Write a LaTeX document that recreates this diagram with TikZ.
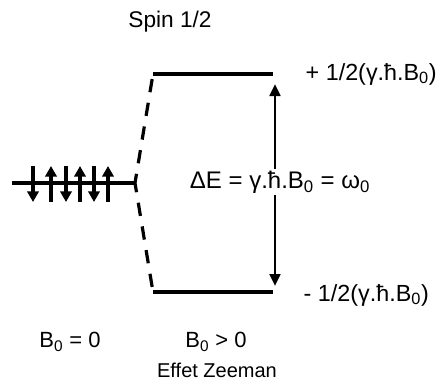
\documentclass[tikz,border=0pt]{standalone}
\usepackage{fontspec}
\setmainfont{Liberation Sans}
\usetikzlibrary{arrows.meta}

\tikzset{
  level/.style={line width=2.6pt},
  trans/.style={line width=2.4pt, dash pattern=on 10pt off 8pt, dash phase=3pt},
  spin/.style={line width=2.4pt, -{Triangle[length=8pt,width=8.5pt]}},
  gap/.style={line width=2pt, {Triangle[length=9pt,width=8pt]}-{Triangle[length=9pt,width=8pt]}},
  biglabel/.style={font=\fontsize{17.5}{21}\selectfont},
}

\begin{document}
\begin{tikzpicture}[x=0.75pt, y=-0.75pt, font=\fontsize{16.5}{20}\selectfont]
  \useasboundingbox (0,0) rectangle (437,380);
  % ---- energy levels ----
  \coordinate (g0) at (12,183);
  \coordinate (g1) at (135,183);
  \coordinate (up0) at (153,74);
  \coordinate (up1) at (273,74);
  \coordinate (lo0) at (153,292);
  \coordinate (lo1) at (273,292);
  \draw[level] (g0) -- (g1);
  \draw[level] (up0) -- (up1);
  \draw[level] (lo0) -- (lo1);
  \draw[trans] (g1) -- (up0);
  \draw[trans] (g1) -- (lo0);
  % ---- spins, alternating down / up ----
  \foreach \x/\a/\b in {33/top/bot, 51/bot/top, 66/top/bot, 80/bot/top, 94/top/bot, 108/bot/top} {
    \coordinate (s-top-\x) at (\x,166);
    \coordinate (s-bot-\x) at (\x,202);
    \draw[spin] (s-\a-\x) -- (s-\b-\x);
  }
  % ---- splitting ----
  \coordinate (gaptop) at (275,84);
  \coordinate (gapbot) at (275,286);
  \draw[gap] (gaptop) -- (gapbot);
  \node[font=\fontsize{18}{22}\selectfont, fill=white, inner sep=1pt] (dE) at (280,182)
    {ΔE = γ.ħ.B\textsubscript{0} = ω\textsubscript{0}};
  \node[biglabel, anchor=west] (eup) at (301,74) {+ 1/2(γ.ħ.B\textsubscript{0})};
  \node[biglabel, anchor=west] (elo) at (299,295) {- 1/2(γ.ħ.B\textsubscript{0})};
  % ---- captions ----
  \node[font=\fontsize{17}{20}\selectfont] (spin) at (170,22) {Spin 1/2};
  \node (nofield) at (70,342) {B\textsubscript{0} = 0};
  \node (field) at (216,342) {B\textsubscript{0} > 0};
  \node[font=\fontsize{15}{18}\selectfont] (zeeman) at (217,370) {Effet Zeeman};
\end{tikzpicture}
\end{document}
